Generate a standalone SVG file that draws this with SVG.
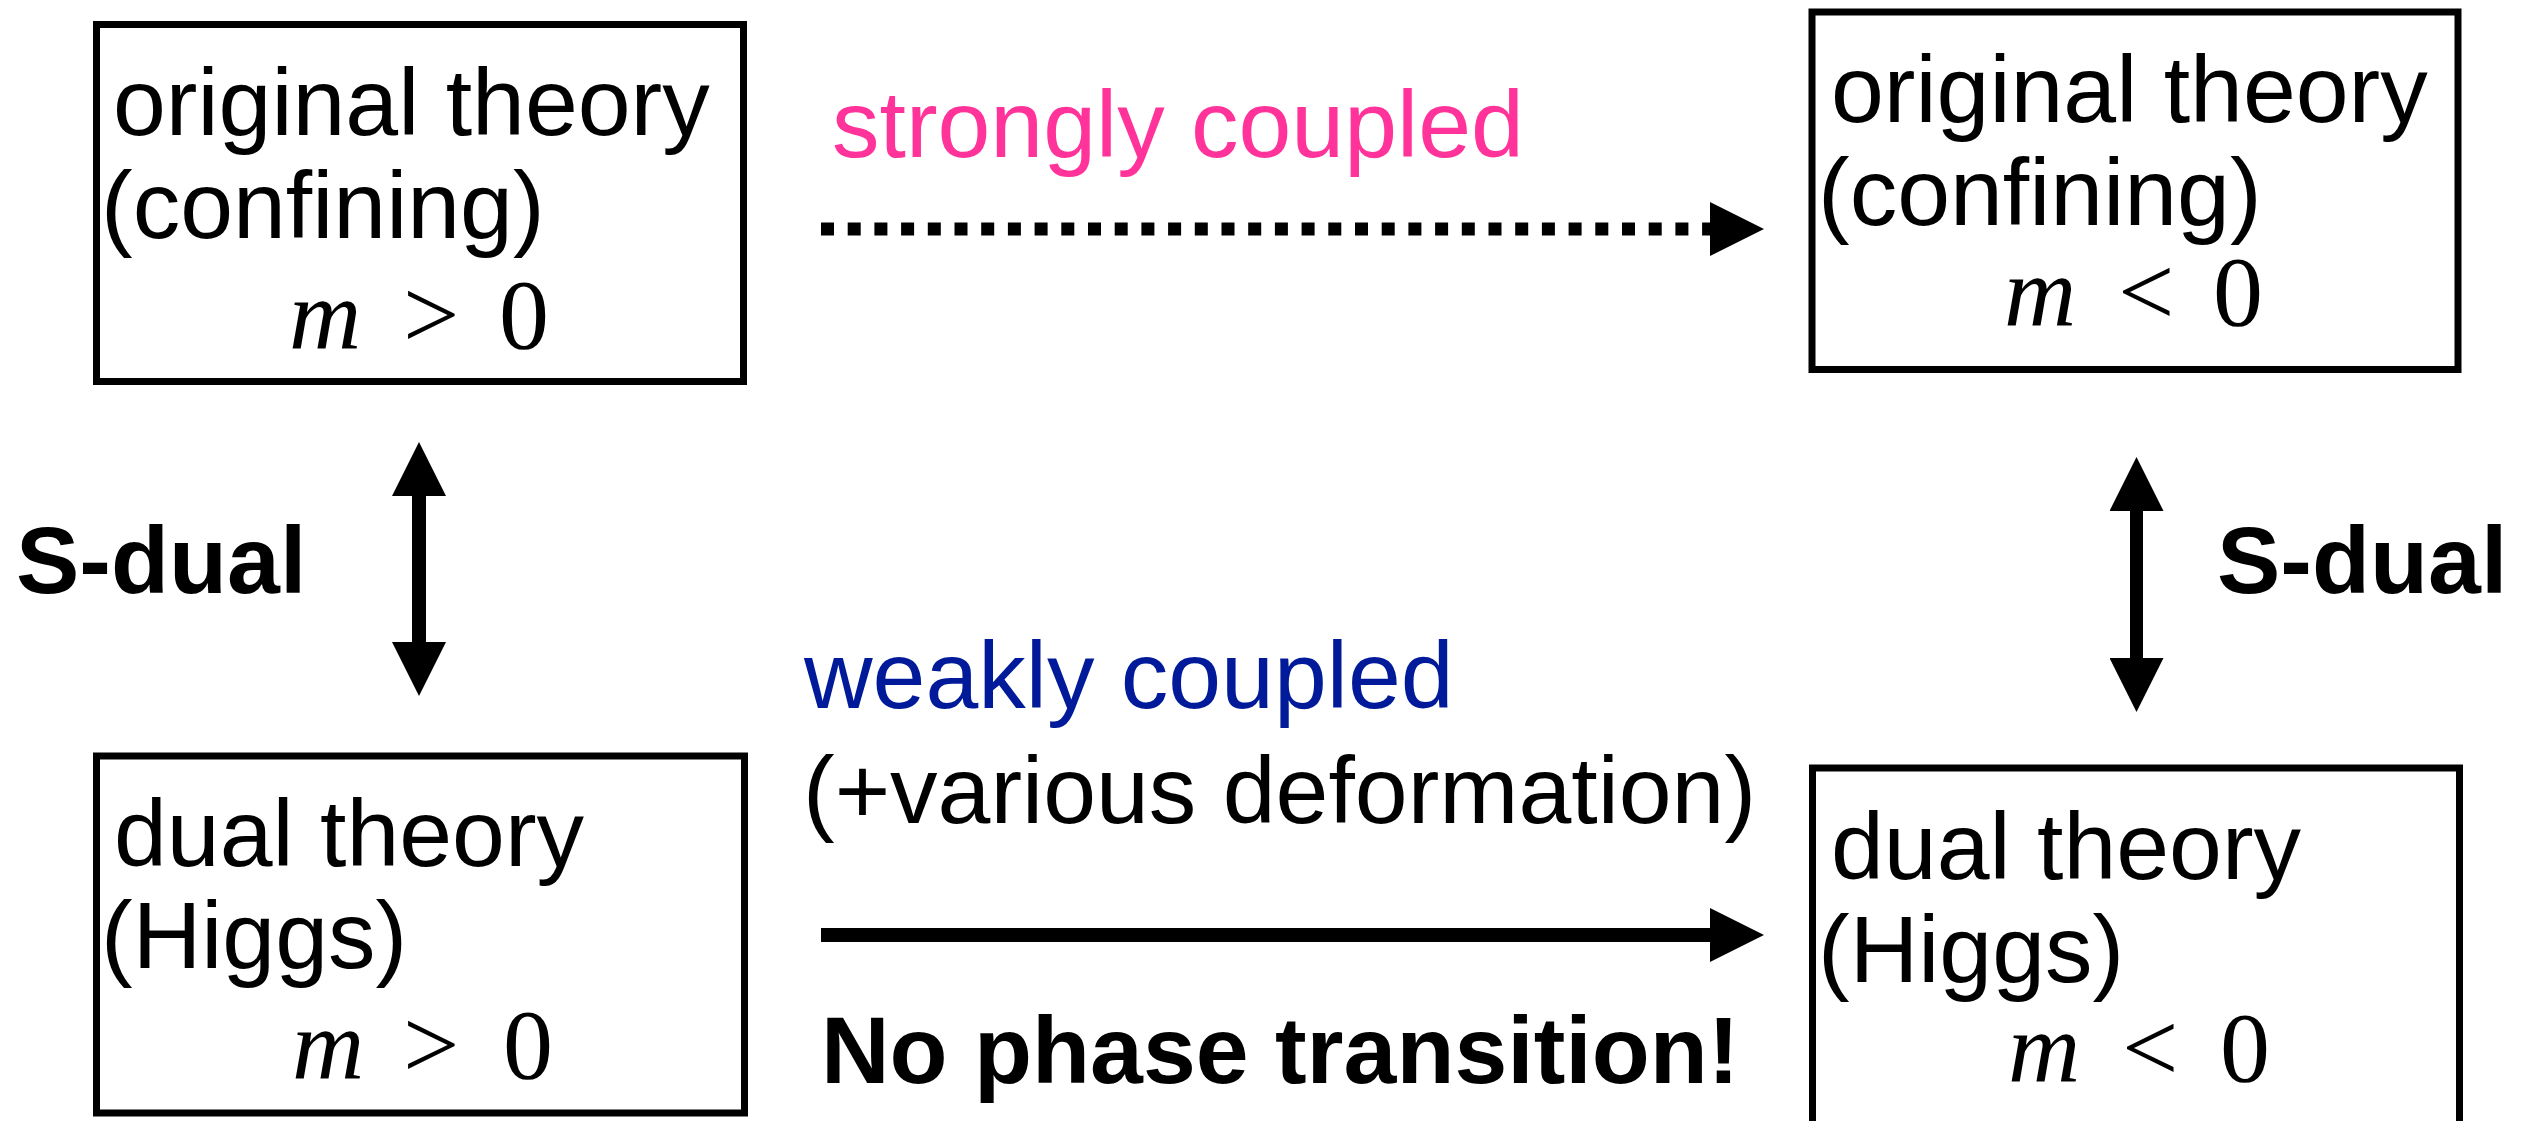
<svg xmlns="http://www.w3.org/2000/svg" width="2534" height="1121" viewBox="0 0 2534 1121">
<style>
.box{fill:#fff;stroke:#000;stroke-width:7}
.t{font-family:"Liberation Sans",Arial,sans-serif;font-size:95px;fill:#000}
.b{font-family:"Liberation Sans",Arial,sans-serif;font-size:95px;font-weight:bold;fill:#000}
.math{font-family:"Liberation Serif","Times New Roman",serif;font-size:100px;fill:#000}
.it{font-style:italic}
.pink{fill:#FF3399}
.blue{fill:#001A99}
.conn{fill:none;stroke:#000}
</style>
<defs>
<marker id="head" markerUnits="userSpaceOnUse" markerWidth="54" markerHeight="54" viewBox="0 0 54 54" refX="0" refY="27" orient="auto-start-reverse">
<path d="M0,0 L54,27 L0,54 Z" fill="#000"/>
</marker>
</defs>
<rect width="2534" height="1121" fill="#fff"/>

<g id="node-orig-pos">
<rect class="box" x="96.5" y="24.5" width="647" height="357"/>
<text class="t" x="113" y="135">original theory</text>
<text class="t" x="101" y="238">(confining)</text>
<text class="math" y="348"><tspan class="it" x="289">m</tspan><tspan x="403">&gt;</tspan><tspan x="499">0</tspan></text>
</g>

<g id="node-orig-neg">
<rect class="box" x="1812" y="12" width="646" height="357.5"/>
<text class="t" x="1831" y="122">original theory</text>
<text class="t" x="1818" y="225">(confining)</text>
<text class="math" y="325"><tspan class="it" x="2004">m</tspan><tspan x="2118">&lt;</tspan><tspan x="2213">0</tspan></text>
</g>

<g id="node-dual-pos">
<rect class="box" x="96.5" y="756" width="648" height="357"/>
<text class="t" x="114" y="866">dual theory</text>
<text class="t" x="101" y="968">(Higgs)</text>
<text class="math" y="1078"><tspan class="it" x="292">m</tspan><tspan x="403">&gt;</tspan><tspan x="503">0</tspan></text>
</g>

<g id="node-dual-neg">
<rect class="box" x="1812.5" y="768" width="647" height="400"/>
<text class="t" x="1831" y="879">dual theory</text>
<text class="t" x="1818" y="982">(Higgs)</text>
<text class="math" y="1081"><tspan class="it" x="2008">m</tspan><tspan x="2122">&lt;</tspan><tspan x="2220">0</tspan></text>
</g>

<g id="connectors">
<path class="conn" d="M821,229 H1710" stroke-width="13" stroke-dasharray="13 13.7" marker-end="url(#head)"/>
<path class="conn" d="M821,935 H1710" stroke-width="14" marker-end="url(#head)"/>
<path class="conn" d="M419,496 V642" stroke-width="14" marker-start="url(#head)" marker-end="url(#head)"/>
<path class="conn" d="M2136.5,511 V658" stroke-width="13" marker-start="url(#head)" marker-end="url(#head)"/>
</g>

<g id="labels">
<text class="t pink" x="832" y="157">strongly coupled</text>
<text class="t blue" x="804" y="708">weakly coupled</text>
<text class="t" x="803" y="823">(+various deformation)</text>
<text class="b" x="821" y="1083">No phase transition!</text>
<text class="b" x="16" y="593">S-dual</text>
<text class="b" x="2217" y="593">S-dual</text>
</g>
</svg>
